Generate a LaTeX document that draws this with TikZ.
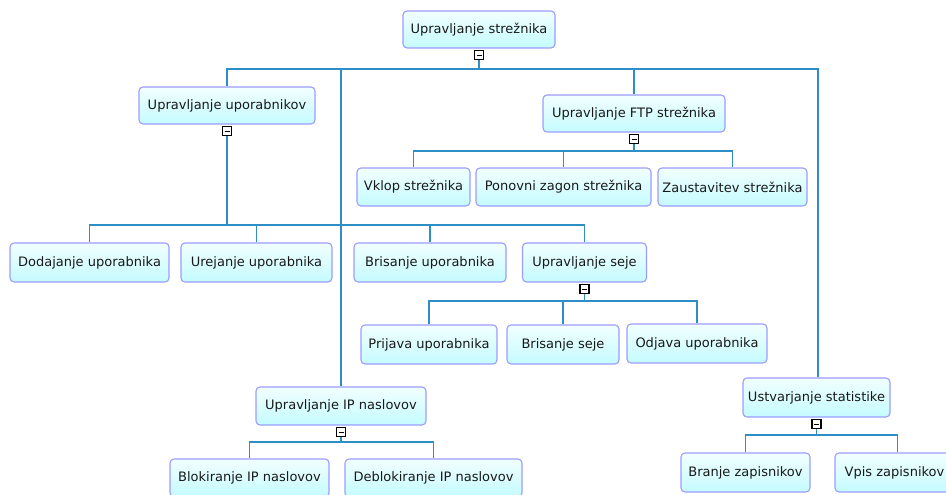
\documentclass[tikz,border=0pt]{standalone}
\usepackage{fontspec}
\setmainfont{DejaVu Sans}
\usetikzlibrary{calc}
\definecolor{boxedge}{HTML}{9C9CFF}
\definecolor{boxtop}{HTML}{F2FFFF}
\definecolor{boxbot}{HTML}{C4FBFF}
\definecolor{wire}{HTML}{2E8FC6}
\tikzset{
  topic/.style={draw=boxedge, line width=1.1pt, rounded corners=4pt,
    top color=boxtop, bottom color=boxbot, inner sep=0pt,
    font=\fontsize{13}{15}\selectfont, text=black!90},
  fold/.style={draw=black, line width=1.1pt, fill=white, minimum size=9pt,
    inner sep=0pt, anchor=north, path picture={\draw[line width=1.1pt]
      ([xshift=-2.5pt]path picture bounding box.center) --
      ([xshift=2.5pt]path picture bounding box.center);}},
  conn/.style={draw=wire, line width=1.5pt}
}
\newcommand{\topicnode}[6]{%
  \node[topic, minimum width=#4pt, minimum height=#5pt] (#1) at (#2,#3) {#6};}
\begin{document}
\begin{tikzpicture}[x=1pt, y=-1pt]
\useasboundingbox (0,0) rectangle (946,495);
\begin{scope}
\clip (0,0) rectangle (946,495);

% topics
\topicnode{root}{479}{29.5}{152}{37}{Upravljanje strežnika}
\topicnode{users}{227}{105.5}{176}{37}{Upravljanje uporabnikov}
\topicnode{ftp}{634}{113.5}{182}{37}{Upravljanje FTP strežnika}
\topicnode{on}{413.5}{187}{113}{38}{Vklop strežnika}
\topicnode{restart}{563.5}{187}{175}{38}{Ponovni zagon strežnika}
\topicnode{stop}{732.5}{187}{149}{38}{Zaustavitev strežnika}
\topicnode{add}{89.5}{262.5}{159}{39}{Dodajanje uporabnika}
\topicnode{edit}{256.5}{262.5}{151}{39}{Urejanje uporabnika}
\topicnode{del}{430}{262.5}{152}{39}{Brisanje uporabnika}
\topicnode{sess}{584.5}{262.5}{124}{39}{Upravljanje seje}
\topicnode{login}{429}{344.5}{136}{39}{Prijava uporabnika}
\topicnode{sdel}{563}{344.5}{112}{39}{Brisanje seje}
\topicnode{logout}{697}{343.5}{140}{39}{Odjava uporabnika}
\topicnode{ip}{341}{406}{170}{38}{Upravljanje IP naslovov}
\topicnode{block}{249.5}{478}{159}{38}{Blokiranje IP naslovov}
\topicnode{unblock}{433.5}{478}{177}{38}{Deblokiranje IP naslovov}
\topicnode{stats}{816.5}{397.5}{147}{39}{Ustvarjanje statistike}
\topicnode{read}{745.5}{472.5}{129}{39}{Branje zapisnikov}
\topicnode{write}{894.5}{472.5}{119}{39}{Vpis zapisnikov}

% collapse markers under each parent
\foreach \p in {root,users,ftp,sess,ip,stats}
  \node[fold] (\p-m) at ([yshift=-1.5pt]\p.south) {};

% connectors
\foreach \c in {users,ip,ftp}
  \draw[conn] (root-m.south) -- ++(0,9) -| (\c.north);
\draw[conn] (root-m.south) -- ++(0,9) -| ([xshift=1.5pt]stats.north);
\foreach \c in {add,edit,del,sess}
  \draw[conn] (users-m.south) -- ++(0,89) -| (\c.north);
\foreach \c in {on,restart,stop}
  \draw[conn] (ftp-m.south) -- ++(0,7) -| (\c.north);
\foreach \c in {login,sdel,logout}
  \draw[conn] (sess-m.south) -- ++(0,7) -| (\c.north);
\foreach \c in {block,unblock}
  \draw[conn] (ip-m.south) -- ++(0,5) -| (\c.north);
\draw[conn] (stats-m.south) -- ++(0,6) -| (read.north);
\draw[conn] (stats-m.south) -- ++(0,6) -| ([xshift=3pt]write.north);
\end{scope}
\end{tikzpicture}
\end{document}
